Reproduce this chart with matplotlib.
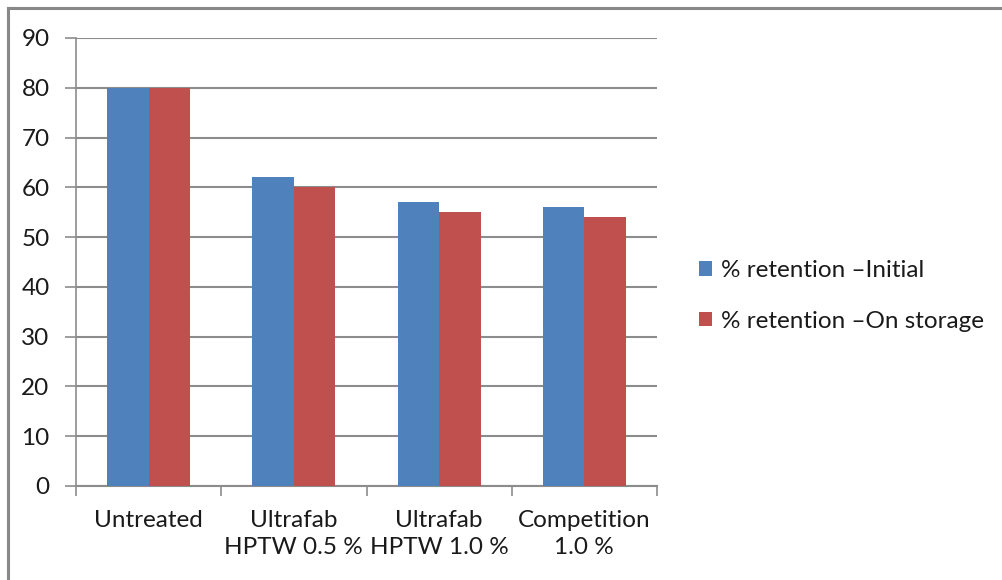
import matplotlib
matplotlib.use("Agg")
import matplotlib.pyplot as plt
from matplotlib.lines import Line2D
from matplotlib.patches import Patch
import numpy as np

categories = ["Untreated", "Ultrafab\nHPTW 0.5 %", "Ultrafab\nHPTW 1.0 %", "Competition\n1.0 %"]
initial = [80, 62, 57, 56]
storage = [80, 60, 55, 54]
series_labels = ["% retention \u2013Initial", "% retention \u2013On storage"]
yticks = [0, 10, 20, 30, 40, 50, 60, 70, 80, 90]

plt.rcParams['font.family'] = ['Lato', 'DejaVu Sans']
W, H = 1002, 580
fig = plt.figure(figsize=(W / 100, H / 100), dpi=100)
fig.patch.set_facecolor('white')

L, R, T, B = 76, 657, 38, 486
ax = fig.add_axes([L / W, 1 - B / H, (R - L) / W, (B - T) / H])

blue = '#4F81BD'
red = '#C0504D'
grid_c = '#8C8C8C'
txt_c = '#1a1a1a'
fs = 17.5
x = np.arange(len(categories))
bw = 0.286
ax.bar(x - bw / 2, initial, bw, color=blue, zorder=3, label=series_labels[0])
ax.bar(x + bw / 2, storage, bw, color=red, zorder=3, label=series_labels[1])

ax.set_xlim(-0.5, len(categories) - 0.5)
ax.set_ylim(0, 90)
ax.set_yticks(yticks)
ax.yaxis.grid(True, color=grid_c, linewidth=1.5, zorder=0)
ax.set_axisbelow(True)

for s in ['top', 'right']:
    ax.spines[s].set_visible(False)
ax.spines['left'].set_color(grid_c)
ax.spines['left'].set_linewidth(1.2)
ax.spines['bottom'].set_color(grid_c)
ax.spines['bottom'].set_linewidth(1.5)

ax.set_xticks(x)
ax.set_xticklabels(categories, fontsize=fs, color=txt_c, linespacing=1.4)
ax.set_xticks(np.arange(len(categories) + 1) - 0.5, minor=True)
ax.tick_params(axis='x', which='major', length=0, pad=17)
ax.tick_params(axis='x', which='minor', length=7, width=1.2, color=grid_c, direction='out')
ax.tick_params(axis='y', length=8, width=1.2, color=grid_c, pad=11, labelsize=fs, labelcolor=txt_c)

handles = [Patch(facecolor=blue), Patch(facecolor=red)]
leg = fig.legend(handles, series_labels, loc='center left',
                 bbox_to_anchor=(699 / W, 1 - 296 / H), frameon=False,
                 fontsize=fs, handlelength=0.55, handleheight=0.55,
                 handletextpad=0.35, labelspacing=1.2, borderaxespad=0, borderpad=0)
for t in leg.get_texts():
    t.set_color(txt_c)

# outer frame (partially cropped)
fig.add_artist(Line2D([7.5 / W, 7.5 / W], [0, 1 - 8 / H], color='#888888', linewidth=2.2, transform=fig.transFigure))
fig.add_artist(Line2D([7.5 / W, 1], [1 - 8 / H, 1 - 8 / H], color='#888888', linewidth=2.2, transform=fig.transFigure))

fig.savefig('out.png', dpi=100, facecolor='white')
